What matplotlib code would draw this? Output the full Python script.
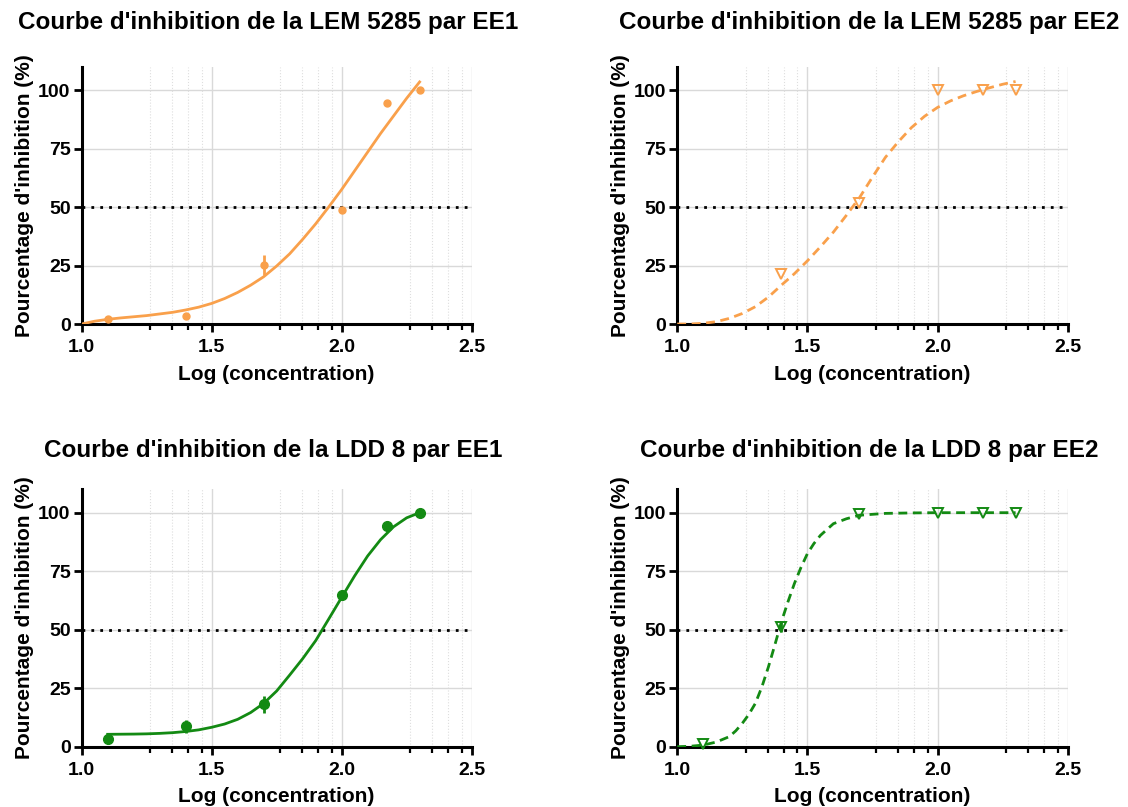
import matplotlib
matplotlib.use("Agg")
import matplotlib.pyplot as plt
import numpy as np

plt.rcParams['font.family'] = ['Liberation Sans', 'DejaVu Sans']
plt.rcParams['font.weight'] = 'bold'

ORANGE = '#F9A04B'
GREEN = '#138A13'

# points mesurés (log concentration)
x_pts = [1.1, 1.4, 1.7, 2.0, 2.176, 2.3]

lem_ee1_y = [2.0, 3.4, 25.1, 48.9, 94.7, 100.0]
lem_ee1_err = [0.0, 0.0, 4.3, 0.0, 0.0, 0.0]
lem_ee2_x = [1.4, 1.7, 2.0, 2.176, 2.3]
lem_ee2_y = [21.3, 51.7, 100.0, 100.0, 100.0]
ldd_ee1_y = [3.1, 8.8, 18.1, 64.7, 94.4, 100.0]
ldd_ee1_err = [1.8, 2.8, 3.7, 1.5, 0.0, 0.0]
ldd_ee2_y = [1.1, 51.2, 99.3, 100.0, 100.0, 100.0]
ldd_ee2_err = [0.0, 2.0, 0.0, 0.0, 0.0, 0.0]

# courbes ajustées
lem_ee1_cx = [1.0, 1.05, 1.1, 1.15, 1.2, 1.25, 1.3, 1.35, 1.4, 1.45, 1.5, 1.55, 1.6, 1.65,
              1.7, 1.75, 1.8, 1.85, 1.9, 1.95, 2.0, 2.05, 2.1, 2.15, 2.2, 2.25, 2.3]
lem_ee1_cy = [0.0, 1.2, 2.0, 2.6, 3.1, 3.6, 4.3, 5.0, 6.0, 7.2, 8.8, 10.9, 13.5, 16.6,
              20.2, 24.8, 30.0, 36.2, 42.8, 50.0, 57.5, 65.5, 73.5, 81.5, 89.0, 96.5, 103.5]
lem_ee2_cx = [1.0, 1.05, 1.1, 1.15, 1.2, 1.25, 1.3, 1.35, 1.4, 1.45, 1.5, 1.55, 1.6, 1.65,
              1.7, 1.75, 1.8, 1.85, 1.9, 1.95, 2.0, 2.05, 2.1, 2.15, 2.2, 2.25, 2.3]
lem_ee2_cy = [0.0, 0.0, 0.3, 1.0, 2.4, 4.5, 7.4, 11.5, 16.6, 21.5, 27.0, 33.0, 39.3, 46.5,
              54.0, 62.8, 71.3, 78.0, 84.0, 88.8, 92.6, 95.4, 97.6, 99.4, 101.0, 102.5, 103.7]
ldd_ee1_cx = [1.1, 1.15, 1.2, 1.25, 1.3, 1.35, 1.4, 1.45, 1.5, 1.55, 1.6, 1.65, 1.7, 1.75,
              1.8, 1.85, 1.9, 1.95, 2.0, 2.05, 2.1, 2.15, 2.2, 2.25, 2.3]
ldd_ee1_cy = [5.3, 5.35, 5.4, 5.5, 5.7, 6.0, 6.5, 7.2, 8.3, 9.7, 11.7, 14.6, 18.5, 23.8,
              30.6, 37.6, 45.3, 54.5, 63.8, 73.0, 81.5, 88.5, 94.0, 97.8, 100.0]
ldd_ee2_cx = [1.0, 1.05, 1.1, 1.15, 1.2, 1.225, 1.25, 1.275, 1.3, 1.325, 1.35, 1.375, 1.4,
              1.425, 1.45, 1.475, 1.5, 1.525, 1.55, 1.6, 1.65, 1.7, 1.8, 1.9, 2.0, 2.1, 2.2, 2.3]
ldd_ee2_cy = [0.0, 0.2, 0.7, 2.0, 4.3, 6.8, 10.0, 13.8, 18.5, 25.5, 34.0, 43.5, 53.3,
              61.8, 69.7, 76.5, 82.5, 86.8, 90.3, 95.3, 97.4, 98.9, 99.7, 99.9, 100.0, 100.0, 100.0, 100.0]

titles = ["Courbe d'inhibition de la LEM 5285 par EE1",
          "Courbe d'inhibition de la LEM 5285 par EE2",
          "Courbe d'inhibition de la LDD 8 par EE1",
          "Courbe d'inhibition de la LDD 8 par EE2"]

# ticks mineurs (style Prism) dans chaque intervalle de 0.5
minor_off = [0.263, 0.349, 0.41, 0.462]
minors = [b + o for b in [1.0, 1.5, 2.0] for o in minor_off]

fig = plt.figure(figsize=(11.28, 8.07), dpi=100)
rects = [[0.0724, 0.5985, 0.3457, 0.3188],
         [0.6004, 0.5985, 0.3461, 0.3188],
         [0.0724, 0.0747, 0.3457, 0.3190],
         [0.6004, 0.0747, 0.3461, 0.3190]]
title_pos = [(268, 22), (869, 22), (273, 451), (869, 451)]


def style_axe(ax):
    ax.set_xlim(1.0, 2.5)
    ax.set_ylim(0, 110)
    ax.set_xticks([1.0, 1.5, 2.0, 2.5])
    ax.set_xticks(minors, minor=True)
    ax.set_yticks([0, 25, 50, 75, 100])
    ax.set_xticklabels(['1.0', '1.5', '2.0', '2.5'])
    for s in ['top', 'right']:
        ax.spines[s].set_visible(False)
    for s in ['left', 'bottom']:
        ax.spines[s].set_linewidth(2.2)
    ax.tick_params(axis='both', which='major', width=2, length=6, labelsize=14, pad=2)
    ax.tick_params(axis='x', which='major', pad=5)
    ax.tick_params(axis='x', which='minor', width=1.6, length=4)
    ax.grid(True, which='major', color='#d9d9d9', linewidth=1.0)
    ax.grid(True, which='minor', axis='x', color='#dedede', linewidth=0.8, linestyle=':')
    ax.set_axisbelow(True)
    ax.axhline(50, color='black', linestyle=(0, (1, 2.2)), linewidth=2, zorder=2)
    ax.set_xlabel('Log (concentration)', fontsize=15, fontweight='bold', labelpad=6)
    ax.set_ylabel("Pourcentage d'inhibition (%)", fontsize=15, fontweight='bold', labelpad=3)


axes = [fig.add_axes(r) for r in rects]
for ax in axes:
    style_axe(ax)

# LEM 5285 / EE1
ax = axes[0]
ax.plot(lem_ee1_cx, lem_ee1_cy, color=ORANGE, linewidth=2, zorder=3)
ax.errorbar(x_pts, lem_ee1_y, yerr=lem_ee1_err, fmt='o', color=ORANGE, markersize=5,
            elinewidth=2, capsize=0, zorder=4, clip_on=False)

# LEM 5285 / EE2
ax = axes[1]
ax.plot(lem_ee2_cx, lem_ee2_cy, color=ORANGE, linewidth=2, linestyle=(0, (3.2, 2)), zorder=3)
ax.plot(lem_ee2_x, lem_ee2_y, 'v', markerfacecolor='none', markeredgecolor=ORANGE,
        markersize=7, markeredgewidth=1.4, zorder=4, clip_on=False)

# LDD 8 / EE1
ax = axes[2]
ax.plot(ldd_ee1_cx, ldd_ee1_cy, color=GREEN, linewidth=2, zorder=3)
ax.errorbar(x_pts, ldd_ee1_y, yerr=ldd_ee1_err, fmt='o', color=GREEN, markersize=7,
            elinewidth=2, capsize=0, zorder=4, clip_on=False)

# LDD 8 / EE2
ax = axes[3]
ax.plot(ldd_ee2_cx, ldd_ee2_cy, color=GREEN, linewidth=2, linestyle=(0, (3.2, 2)), zorder=3)
ax.errorbar(x_pts, ldd_ee2_y, yerr=ldd_ee2_err, fmt='v', markerfacecolor='none',
            markeredgecolor=GREEN, ecolor=GREEN, markersize=7, markeredgewidth=1.4,
            elinewidth=2, capsize=0, zorder=4, clip_on=False)

for t, (px, py) in zip(titles, title_pos):
    fig.text(px / 1128, 1 - py / 807, t, ha='center', va='center', fontsize=17.5,
             fontweight='bold')

fig.savefig('out.png', dpi=100)
